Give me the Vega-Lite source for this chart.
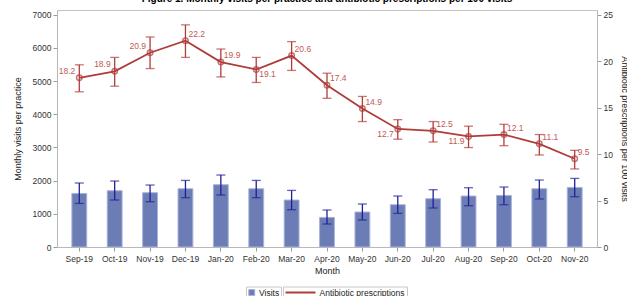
{
  "$schema": "https://vega.github.io/schema/vega-lite/v6.json",
  "width": 540,
  "height": 237,
  "autosize": {"type": "none"},
  "padding": {"left": 57, "top": 10, "right": 30, "bottom": 49},
  "title": {
    "text": "Figure 1. Monthly visits per practice and antibiotic prescriptions per 100 visits",
    "fontSize": 10,
    "fontWeight": "bold",
    "color": "#000000",
    "anchor": "middle",
    "baseline": "alphabetic",
    "offset": -2
  },
  "config": {
    "font": "Liberation Sans",
    "view": {"stroke": "#c4c4c4", "strokeWidth": 1},
    "axis": {
      "labelFontSize": 8.5,
      "titleFontSize": 9,
      "titleFontWeight": "normal",
      "labelColor": "#333333",
      "titleColor": "#222222",
      "domainColor": "#b8b8b8",
      "tickColor": "#9a9a9a",
      "tickSize": 4,
      "grid": false,
      "labelOverlap": false
    },
    "legend": {
      "orient": "none",
      "direction": "horizontal",
      "padding": 1.5,
      "strokeColor": "#c8c8c8",
      "fillColor": "#ffffff",
      "labelFontSize": 8.5,
      "labelColor": "#222222",
      "labelOffset": 3,
      "clipHeight": 9,
      "title": null
    }
  },
  "data": {
    "values": [
      {"month": "Sep-19", "visits": 1614, "v_lo": 1313, "v_hi": 1928, "rx": 18.2, "rx_lo": 16.7, "rx_hi": 19.6},
      {"month": "Oct-19", "visits": 1696, "v_lo": 1416, "v_hi": 1988, "rx": 18.9, "rx_lo": 17.3, "rx_hi": 20.4},
      {"month": "Nov-19", "visits": 1636, "v_lo": 1364, "v_hi": 1867, "rx": 20.9, "rx_lo": 19.2, "rx_hi": 22.6},
      {"month": "Dec-19", "visits": 1756, "v_lo": 1485, "v_hi": 2006, "rx": 22.2, "rx_lo": 20.4, "rx_hi": 23.9},
      {"month": "Jan-20", "visits": 1877, "v_lo": 1566, "v_hi": 2169, "rx": 19.9, "rx_lo": 18.3, "rx_hi": 21.3},
      {"month": "Feb-20", "visits": 1756, "v_lo": 1485, "v_hi": 2006, "rx": 19.1, "rx_lo": 17.7, "rx_hi": 20.4},
      {"month": "Mar-20", "visits": 1416, "v_lo": 1124, "v_hi": 1705, "rx": 20.6, "rx_lo": 19.0, "rx_hi": 22.1},
      {"month": "Apr-20", "visits": 892, "v_lo": 693, "v_hi": 1114, "rx": 17.4, "rx_lo": 16.0, "rx_hi": 18.7},
      {"month": "May-20", "visits": 1054, "v_lo": 813, "v_hi": 1295, "rx": 14.9, "rx_lo": 13.5, "rx_hi": 16.2},
      {"month": "Jun-20", "visits": 1274, "v_lo": 1012, "v_hi": 1536, "rx": 12.7, "rx_lo": 11.6, "rx_hi": 13.7},
      {"month": "Jul-20", "visits": 1455, "v_lo": 1175, "v_hi": 1726, "rx": 12.5, "rx_lo": 11.3, "rx_hi": 13.5},
      {"month": "Aug-20", "visits": 1536, "v_lo": 1244, "v_hi": 1786, "rx": 11.9, "rx_lo": 10.7, "rx_hi": 13.0},
      {"month": "Sep-20", "visits": 1554, "v_lo": 1274, "v_hi": 1807, "rx": 12.1, "rx_lo": 10.9, "rx_hi": 13.2},
      {"month": "Oct-20", "visits": 1756, "v_lo": 1446, "v_hi": 2018, "rx": 11.1, "rx_lo": 9.9, "rx_hi": 12.1},
      {"month": "Nov-20", "visits": 1795, "v_lo": 1515, "v_hi": 2066, "rx": 9.5, "rx_lo": 8.4, "rx_hi": 10.4}
    ]
  },
  "encoding": {
    "x": {
      "field": "month",
      "type": "ordinal",
      "sort": null,
      "scale": {"paddingInner": 0.58, "paddingOuter": 0.42},
      "axis": {"title": "Month", "labelAngle": 0, "labelPadding": 3, "titlePadding": 4}
    }
  },
  "layer": [
    {
      "layer": [
        {
          "mark": {"type": "bar", "stroke": "#aab4da", "strokeWidth": 1},
          "encoding": {
            "y": {
              "field": "visits",
              "type": "quantitative",
              "scale": {"domain": [0, 7141], "nice": false},
              "axis": {"title": "Monthly visits per practice", "values": [0, 1000, 2000, 3000, 4000, 5000, 6000, 7000], "format": "d", "titlePadding": 10}
            },
            "fill": {
              "datum": "Visits",
              "scale": {"domain": ["Visits"], "range": ["#6c7db5"]},
              "legend": {
                "legendX": 189,
                "legendY": 276.5,
                "symbolType": "square",
                "symbolSize": 36,
                "symbolStrokeColor": "#aab4da",
                "symbolStrokeWidth": 1
              }
            }
          }
        },
        {
          "mark": {"type": "rule", "color": "#1f1f99", "strokeWidth": 1.3},
          "encoding": {
            "y": {"field": "v_lo", "type": "quantitative", "axis": {"title": "Monthly visits per practice", "values": [0, 1000, 2000, 3000, 4000, 5000, 6000, 7000], "format": "d", "titlePadding": 10}},
            "y2": {"field": "v_hi"}
          }
        },
        {
          "mark": {"type": "tick", "color": "#1f1f99", "size": 9, "thickness": 1.3},
          "encoding": {"y": {"field": "v_lo", "type": "quantitative", "axis": {"title": "Monthly visits per practice", "values": [0, 1000, 2000, 3000, 4000, 5000, 6000, 7000], "format": "d", "titlePadding": 10}}}
        },
        {
          "mark": {"type": "tick", "color": "#1f1f99", "size": 9, "thickness": 1.3},
          "encoding": {"y": {"field": "v_hi", "type": "quantitative", "axis": {"title": "Monthly visits per practice", "values": [0, 1000, 2000, 3000, 4000, 5000, 6000, 7000], "format": "d", "titlePadding": 10}}}
        }
      ]
    },
    {
      "layer": [
        {
          "mark": {"type": "rule", "color": "#b03c3a", "strokeWidth": 1.3},
          "encoding": {
            "y": {
              "field": "rx_lo",
              "type": "quantitative",
              "scale": {"domain": [0, 25.5], "nice": false},
              "axis": {"title": "Antibiotic prescriptions per 100 visits", "orient": "right", "values": [0, 5, 10, 15, 20, 25], "titlePadding": 7}
            },
            "y2": {"field": "rx_hi"}
          }
        },
        {
          "mark": {"type": "tick", "color": "#b03c3a", "size": 9, "thickness": 1.3},
          "encoding": {"y": {"field": "rx_lo", "type": "quantitative", "axis": {"title": "Antibiotic prescriptions per 100 visits", "orient": "right", "values": [0, 5, 10, 15, 20, 25], "titlePadding": 7}}}
        },
        {
          "mark": {"type": "tick", "color": "#b03c3a", "size": 9, "thickness": 1.3},
          "encoding": {"y": {"field": "rx_hi", "type": "quantitative", "axis": {"title": "Antibiotic prescriptions per 100 visits", "orient": "right", "values": [0, 5, 10, 15, 20, 25], "titlePadding": 7}}}
        },
        {
          "mark": {"type": "line", "strokeWidth": 1.8},
          "encoding": {
            "y": {"field": "rx", "type": "quantitative", "axis": {"title": "Antibiotic prescriptions per 100 visits", "orient": "right", "values": [0, 5, 10, 15, 20, 25], "titlePadding": 7}},
            "stroke": {
              "datum": "Antibiotic prescriptions",
              "scale": {"domain": ["Antibiotic prescriptions"], "range": ["#b03c3a"]},
              "legend": {
                "legendX": 226,
                "legendY": 276.5,
                "symbolType": "stroke",
                "symbolSize": 900,
                "symbolStrokeWidth": 2
              }
            }
          }
        },
        {
          "mark": {"type": "point", "shape": "circle", "filled": false, "color": "#b03c3a", "size": 30, "strokeWidth": 1.5},
          "encoding": {"y": {"field": "rx", "type": "quantitative", "axis": {"title": "Antibiotic prescriptions per 100 visits", "orient": "right", "values": [0, 5, 10, 15, 20, 25], "titlePadding": 7}}}
        },
        {
          "transform": [{"filter": {"field": "month", "oneOf": ["Sep-19", "Oct-19", "Nov-19"]}}],
          "mark": {"type": "text", "align": "right", "dx": -4, "dy": -7, "fontSize": 8.5, "color": "#c25a55"},
          "encoding": {
            "y": {"field": "rx", "type": "quantitative", "axis": {"title": "Antibiotic prescriptions per 100 visits", "orient": "right", "values": [0, 5, 10, 15, 20, 25], "titlePadding": 7}},
            "text": {"field": "rx", "type": "quantitative", "format": ".1f"}
          }
        },
        {
          "transform": [{"filter": {"field": "month", "oneOf": ["Jun-20", "Aug-20"]}}],
          "mark": {"type": "text", "align": "right", "dx": -4, "dy": 5, "fontSize": 8.5, "color": "#c25a55"},
          "encoding": {
            "y": {"field": "rx", "type": "quantitative", "axis": {"title": "Antibiotic prescriptions per 100 visits", "orient": "right", "values": [0, 5, 10, 15, 20, 25], "titlePadding": 7}},
            "text": {"field": "rx", "type": "quantitative", "format": ".1f"}
          }
        },
        {
          "transform": [{"filter": {"field": "month", "oneOf": ["Feb-20"]}}],
          "mark": {"type": "text", "align": "left", "dx": 3, "dy": 5, "fontSize": 8.5, "color": "#c25a55"},
          "encoding": {
            "y": {"field": "rx", "type": "quantitative", "axis": {"title": "Antibiotic prescriptions per 100 visits", "orient": "right", "values": [0, 5, 10, 15, 20, 25], "titlePadding": 7}},
            "text": {"field": "rx", "type": "quantitative", "format": ".1f"}
          }
        },
        {
          "transform": [{"filter": {"field": "month", "oneOf": ["Dec-19", "Jan-20", "Mar-20", "Apr-20", "May-20", "Jul-20", "Sep-20", "Oct-20", "Nov-20"]}}],
          "mark": {"type": "text", "align": "left", "dx": 3, "dy": -7, "fontSize": 8.5, "color": "#c25a55"},
          "encoding": {
            "y": {"field": "rx", "type": "quantitative", "axis": {"title": "Antibiotic prescriptions per 100 visits", "orient": "right", "values": [0, 5, 10, 15, 20, 25], "titlePadding": 7}},
            "text": {"field": "rx", "type": "quantitative", "format": ".1f"}
          }
        }
      ]
    }
  ],
  "resolve": {"scale": {"y": "independent"}}
}
